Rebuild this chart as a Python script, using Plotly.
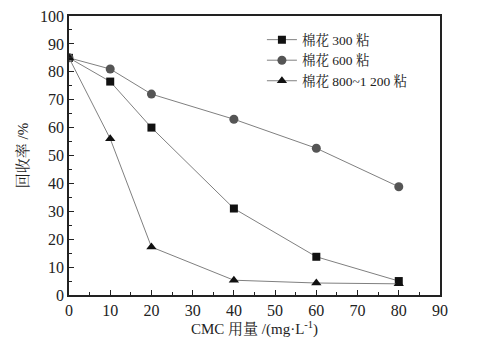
import plotly.graph_objects as go

x = [0, 10, 20, 40, 60, 80]
y300 = [85, 76.5, 60, 31, 13.7, 5]
y600 = [85, 81, 72, 63, 52.6, 38.8]
y800 = [85, 56, 17.2, 5.3, 4.3, 4]
names = ["棉花 300 粘", "棉花 600 粘", "棉花 800~1 200 粘"]

fig = go.Figure()
fig.add_trace(go.Scatter(x=x, y=y300, name=names[0], mode="lines+markers",
                         line=dict(color="#808080", width=1),
                         marker=dict(symbol="square", size=8, color="#111")))
fig.add_trace(go.Scatter(x=x, y=y600, name=names[1], mode="lines+markers",
                         line=dict(color="#808080", width=1),
                         marker=dict(symbol="circle", size=9, color="#555")))
fig.add_trace(go.Scatter(x=x, y=y800, name=names[2], mode="lines+markers",
                         line=dict(color="#808080", width=1),
                         marker=dict(symbol="triangle-up", size=9, color="#111")))

font = "Liberation Serif, Noto Serif CJK SC, Noto Sans CJK SC, serif"
fig.update_layout(
    width=471, height=331,
    margin=dict(l=61, r=39, t=8, b=44),
    paper_bgcolor="white", plot_bgcolor="white",
    font=dict(family=font, size=16, color="#222"),
    showlegend=True,
    legend=dict(x=0.52, y=0.97, xanchor="left", yanchor="top",
                bgcolor="rgba(0,0,0,0)", font=dict(size=13.5),
                tracegroupgap=0, itemwidth=30),
)
fig.update_xaxes(range=[0, 90], tickmode="linear", tick0=0, dtick=10,
                 ticks="inside", ticklen=5, tickcolor="#222", automargin=False,
                 ticklabeloverflow="allow",
                 minor=dict(ticks="inside", ticklen=3, dtick=5, tickcolor="#222"),
                 showline=True, linecolor="#222", linewidth=1.5, mirror=True,
                 showgrid=False, zeroline=False,
                 title=dict(text="CMC 用量 /(mg·L<sup>-1</sup>)", font=dict(size=15), standoff=4))
fig.update_yaxes(range=[0, 100], tickmode="linear", tick0=0, dtick=10,
                 ticks="inside", ticklen=5, tickcolor="#222", automargin=False,
                 ticklabeloverflow="allow",
                 minor=dict(ticks="inside", ticklen=3, dtick=5, tickcolor="#222"),
                 showline=True, linecolor="#222", linewidth=1.5, mirror=True,
                 showgrid=False, zeroline=False,
                 title=dict(text="回收率 /%", font=dict(size=15), standoff=8))

fig.write_html("out.html")
